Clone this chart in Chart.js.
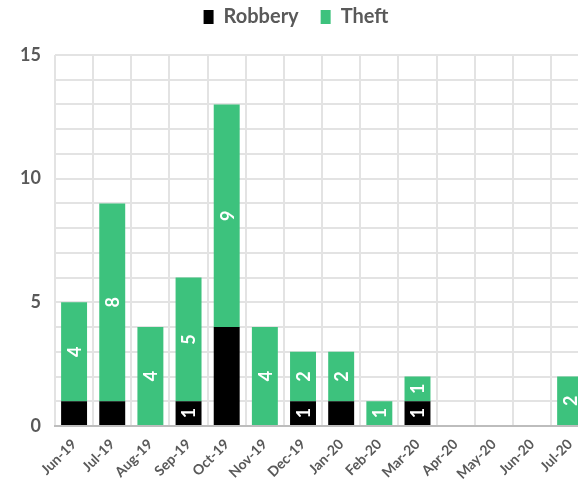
<!DOCTYPE html>
<html>
<head>
<meta charset="utf-8">
<script src="https://cdn.jsdelivr.net/npm/chart.js@4/dist/chart.umd.min.js"></script>
<style>
html,body{margin:0;padding:0;background:#fff;overflow:hidden;}
#wrap{width:592px;height:485px;}
</style>
</head>
<body>
<div id="wrap"><canvas id="crimeChart" width="592" height="485"></canvas></div>
<script>
// months on the x axis
const months = ["Jun-19","Jul-19","Aug-19","Sep-19","Oct-19","Nov-19","Dec-19","Jan-20","Feb-20","Mar-20","Apr-20","May-20","Jun-20","Jul-20"];
const robbery = [1,1,0,1,4,0,1,1,0,1,0,0,0,0];
const theft = [4,8,4,5,9,4,2,2,1,1,0,0,0,2];
// the original only labels some robbery segments
const robberyLabels = ["","","","1","","","1","","","1","","","",""];
const theftLabels = ["4","8","4","5","9","4","2","2","1","1","","","","2"];
const yTicks = [0,5,10,15];

const grey = "#595959";
const green = "#3dc27d";

// white rotated numbers inside the bar segments
const barText = {
  id: "barText",
  beforeLayout(chart){
    // keep the legend block tall so the plot starts lower, like the original
    const lg = chart.legend;
    if(lg && !lg._tall){
      const fit = lg.fit.bind(lg);
      lg.fit = function(){ fit(); this.height = 70; };
      lg._tall = true;
    }
  },
  afterDatasetsDraw(chart){
    const ctx = chart.ctx;
    const labelSets = [robberyLabels, theftLabels];
    chart.data.datasets.forEach((ds, di) => {
      const meta = chart.getDatasetMeta(di);
      meta.data.forEach((bar, i) => {
        const txt = labelSets[di][i];
        if(!txt) return;
        const cy = (bar.y + bar.base) / 2;
        ctx.save();
        ctx.translate(bar.x, cy);
        ctx.rotate(-Math.PI/2);
        ctx.fillStyle = "#fff";
        ctx.font = "bold 18px Lato";
        ctx.textAlign = "center";
        ctx.textBaseline = "middle";
        ctx.fillText(txt, 0, 1);
        ctx.restore();
      });
    });
  }
};

new Chart(document.getElementById("crimeChart"), {
  type: "bar",
  data: {
    labels: months,
    datasets: [
      {label: "Robbery", data: robbery, backgroundColor: "#000000"},
      {label: "Theft", data: theft, backgroundColor: green}
    ]
  },
  options: {
    responsive: false,
    animation: false,
    layout: {padding: {top: -15, right: 0, left: 0, bottom: 0}},
    datasets: {bar: {categoryPercentage: 1, barPercentage: 0.68}},
    plugins: {
      legend: {
        position: "top",
        labels: {
          boxWidth: 10, boxHeight: 14,
          color: grey,
          padding: 22,
          font: {family: "Lato", size: 20, weight: "bold"}
        }
      },
      tooltip: {enabled: false}
    },
    scales: {
      x: {
        stacked: true,
        grid: {color: "#e3e3e3", lineWidth: 2, offset: true, drawTicks: false},
        border: {color: "#bdbdbd", width: 2},
        ticks: {
          color: grey, maxRotation: 45, minRotation: 45, autoSkip: false, padding: 10,
          font: {family: "Lato", size: 14, weight: "bold"}
        },
        afterFit(s){ s.height = 59; }
      },
      y: {
        stacked: true,
        min: 0, max: 15,
        grid: {color: "#e3e3e3", lineWidth: 2, drawTicks: false},
        border: {display: false},
        ticks: {
          stepSize: 1, color: grey, padding: 14,
          font: {family: "Lato", size: 18, weight: "bold"},
          callback: v => yTicks.includes(v) ? v : ""
        },
        afterFit(s){ s.width = 55; }
      }
    }
  },
  plugins: [barText]
});
</script>
</body>
</html>
